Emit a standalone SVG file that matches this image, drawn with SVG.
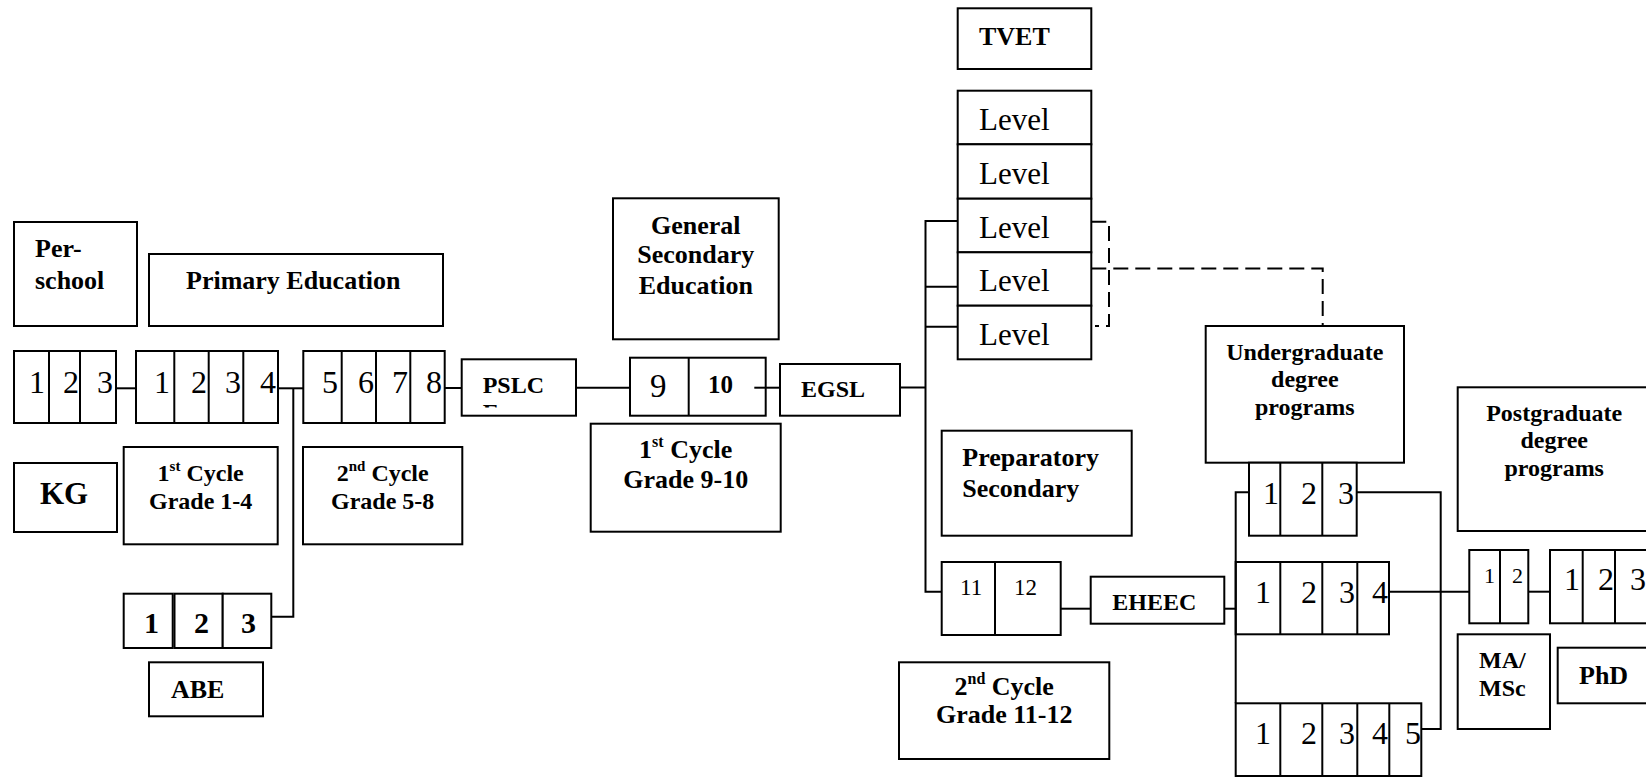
<svg xmlns="http://www.w3.org/2000/svg" width="1646" height="777" viewBox="0 0 1646 777">
  <style>
    .box { fill: #fff; stroke: #000; stroke-width: 2; }
    .div { stroke: #000; stroke-width: 2; }
    .line { fill: none; stroke: #000; stroke-width: 2; }
    .dash { stroke-dasharray: 15 7; }
    .lbl { font-family: "Liberation Serif", "Times New Roman", serif; font-weight: bold; font-size: 26px; fill: #000; }
    .sm { font-size: 24px; }
    .mid { text-anchor: middle; }
    .num { font-family: "Liberation Serif", "Times New Roman", serif; font-size: 32px; fill: #000; }
    .sup { font-size: 15px; }
  </style>
  <defs>
    <clipPath id="pslcClip">
      <rect x="462" y="360" width="113" height="47.5"/>
    </clipPath>
  </defs>
  <rect width="1646" height="777" fill="#fff"/>

  <!-- Pre-school -->
  <g id="preschool">
    <rect class="box" x="14" y="222" width="123" height="104"/>
    <text class="lbl" x="35" y="257">Per-</text>
    <text class="lbl" x="35" y="289">school</text>
  </g>
  <g id="preschool-years">
    <rect class="box" x="14" y="351" width="102" height="72"/>
    <line class="div" x1="49" y1="351" x2="49" y2="423"/>
    <line class="div" x1="80" y1="351" x2="80" y2="423"/>
    <text class="num" x="29" y="393">1</text>
    <text class="num" x="63" y="393">2</text>
    <text class="num" x="97" y="393">3</text>
  </g>
  <g id="kg">
    <rect class="box" x="14" y="463" width="103" height="69"/>
    <text class="lbl" x="40" y="504" style="font-size:31px">KG</text>
  </g>

  <!-- Primary education -->
  <g id="primary">
    <rect class="box" x="149" y="254" width="294" height="72"/>
    <text class="lbl" x="186" y="289">Primary Education</text>
  </g>
  <g id="primary-grades-1-4">
    <rect class="box" x="136" y="351" width="142" height="72"/>
    <line class="div" x1="174.3" y1="351" x2="174.3" y2="423"/>
    <line class="div" x1="208.7" y1="351" x2="208.7" y2="423"/>
    <line class="div" x1="243.3" y1="351" x2="243.3" y2="423"/>
    <text class="num" x="154" y="393">1</text>
    <text class="num" x="191" y="393">2</text>
    <text class="num" x="225" y="393">3</text>
    <text class="num" x="260" y="393">4</text>
  </g>
  <g id="primary-grades-5-8">
    <rect class="box" x="303.3" y="351" width="141.4" height="72"/>
    <line class="div" x1="341.7" y1="351" x2="341.7" y2="423"/>
    <line class="div" x1="376" y1="351" x2="376" y2="423"/>
    <line class="div" x1="410.3" y1="351" x2="410.3" y2="423"/>
    <text class="num" x="322" y="393">5</text>
    <text class="num" x="358" y="393">6</text>
    <text class="num" x="392" y="393">7</text>
    <text class="num" x="426" y="393">8</text>
  </g>
  <g id="cycle-1-4">
    <rect class="box" x="123.7" y="447" width="154" height="97.3"/>
    <text class="lbl sm mid" x="200.7" y="481">1<tspan class="sup" dy="-10">st</tspan><tspan dy="10"> Cycle</tspan></text>
    <text class="lbl sm mid" x="200.7" y="509">Grade 1-4</text>
  </g>
  <g id="cycle-5-8">
    <rect class="box" x="303" y="447" width="159.3" height="97.3"/>
    <text class="lbl sm mid" x="382.7" y="481">2<tspan class="sup" dy="-10">nd</tspan><tspan dy="10"> Cycle</tspan></text>
    <text class="lbl sm mid" x="382.7" y="509">Grade 5-8</text>
  </g>

  <!-- Adult basic education -->
  <g id="abe-years">
    <rect class="box" x="123.7" y="593.7" width="49" height="54.3"/>
    <rect class="box" x="174.5" y="593.7" width="48.2" height="54.3"/>
    <rect class="box" x="222.7" y="593.7" width="48.6" height="54.3"/>
    <text class="num" x="144" y="633" style="font-weight:bold;font-size:30px">1</text>
    <text class="num" x="194" y="633" style="font-weight:bold;font-size:30px">2</text>
    <text class="num" x="241" y="633" style="font-weight:bold;font-size:30px">3</text>
  </g>
  <g id="abe">
    <rect class="box" x="149" y="662.3" width="114" height="54"/>
    <text class="lbl" x="171" y="698">ABE</text>
  </g>

  <!-- Primary school leaving certificate exam (second line cut off by the box) -->
  <g id="pslce">
    <rect class="box" x="461.7" y="359.3" width="114.3" height="56.4"/>
    <text class="lbl sm" x="482.7" y="392.7">PSLC</text>
    <text class="lbl sm" x="482.7" y="420.3" clip-path="url(#pslcClip)">E</text>
  </g>

  <!-- General secondary education -->
  <g id="general-secondary">
    <rect class="box" x="613" y="198.3" width="165.7" height="141"/>
    <text class="lbl mid" x="695.8" y="234">General</text>
    <text class="lbl mid" x="695.8" y="263.3">Secondary</text>
    <text class="lbl mid" x="695.8" y="294.3">Education</text>
  </g>
  <g id="grades-9-10">
    <rect class="box" x="630" y="357.7" width="135.7" height="58"/>
    <line class="div" x1="688.7" y1="357.7" x2="688.7" y2="415.7"/>
    <text class="num" x="650" y="397" style="font-size:33px">9</text>
    <text class="lbl" x="708" y="393.3" style="font-size:25px">10</text>
  </g>
  <g id="cycle-9-10">
    <rect class="box" x="590.7" y="423.7" width="190" height="108"/>
    <text class="lbl mid" x="685.7" y="458.3">1<tspan class="sup" style="font-size:16px" dy="-11">st</tspan><tspan dy="11"> Cycle</tspan></text>
    <text class="lbl mid" x="685.7" y="488.3">Grade 9-10</text>
  </g>
  <g id="egsle">
    <rect class="box" x="780" y="364" width="120" height="51.7"/>
    <text class="lbl sm" x="801" y="396.7">EGSL</text>
  </g>

  <!-- Technical and vocational education and training -->
  <g id="tvet">
    <rect class="box" x="957.7" y="8.3" width="133.6" height="60.7"/>
    <text class="lbl" x="979" y="45">TVET</text>
  </g>
  <g id="tvet-levels">
    <rect class="box" x="957.7" y="90.7" width="133.6" height="53.6"/>
    <rect class="box" x="957.7" y="144.3" width="133.6" height="54.4"/>
    <rect class="box" x="957.7" y="198.7" width="133.6" height="53.6"/>
    <rect class="box" x="957.7" y="252.3" width="133.6" height="53.4"/>
    <rect class="box" x="957.7" y="305.7" width="133.6" height="53.6"/>
    <text class="num" x="979" y="130" style="font-size:31px">Level</text>
    <text class="num" x="979" y="184" style="font-size:31px">Level</text>
    <text class="num" x="979" y="237.7" style="font-size:31px">Level</text>
    <text class="num" x="979" y="291" style="font-size:31px">Level</text>
    <text class="num" x="979" y="345" style="font-size:31px">Level</text>
  </g>

  <!-- Preparatory secondary -->
  <g id="preparatory">
    <rect class="box" x="941.7" y="430.7" width="190" height="105"/>
    <text class="lbl" x="962.3" y="466">Preparatory</text>
    <text class="lbl" x="962.3" y="497.3">Secondary</text>
  </g>
  <g id="grades-11-12">
    <rect class="box" x="941.7" y="562" width="119" height="73"/>
    <line class="div" x1="995" y1="562" x2="995" y2="635"/>
    <text class="num" x="960" y="595" style="font-size:23px">11</text>
    <text class="num" x="1014" y="595" style="font-size:23px">12</text>
  </g>
  <g id="cycle-11-12">
    <rect class="box" x="899" y="662.3" width="210.3" height="96.7"/>
    <text class="lbl mid" x="1004.2" y="695">2<tspan class="sup" style="font-size:16px" dy="-11">nd</tspan><tspan dy="11"> Cycle</tspan></text>
    <text class="lbl mid" x="1004.2" y="723.3">Grade 11-12</text>
  </g>
  <g id="eheece">
    <rect class="box" x="1090.7" y="576.7" width="133.6" height="47"/>
    <text class="lbl sm" x="1112.3" y="610">EHEEC</text>
  </g>

  <!-- Higher education -->
  <g id="undergraduate">
    <rect class="box" x="1205.7" y="326" width="198.3" height="136.7"/>
    <text class="lbl sm mid" x="1304.8" y="360">Undergraduate</text>
    <text class="lbl sm mid" x="1304.8" y="387.3">degree</text>
    <text class="lbl sm mid" x="1304.8" y="415">programs</text>
  </g>
  <g id="ug-3-year">
    <rect class="box" x="1249" y="462.7" width="107.7" height="73"/>
    <line class="div" x1="1280.3" y1="462.7" x2="1280.3" y2="535.7"/>
    <line class="div" x1="1322.3" y1="462.7" x2="1322.3" y2="535.7"/>
    <text class="num" x="1263" y="504">1</text>
    <text class="num" x="1301" y="504">2</text>
    <text class="num" x="1338" y="504">3</text>
  </g>
  <g id="ug-4-year">
    <rect class="box" x="1235.7" y="562" width="153.3" height="72.3"/>
    <line class="div" x1="1280.3" y1="562" x2="1280.3" y2="634.3"/>
    <line class="div" x1="1322.3" y1="562" x2="1322.3" y2="634.3"/>
    <line class="div" x1="1357.3" y1="562" x2="1357.3" y2="634.3"/>
    <text class="num" x="1255" y="603.3">1</text>
    <text class="num" x="1301" y="603.3">2</text>
    <text class="num" x="1339" y="603.3">3</text>
    <text class="num" x="1372" y="603.3">4</text>
  </g>
  <g id="ug-5-year">
    <rect class="box" x="1235.7" y="703.3" width="185.6" height="72.7"/>
    <line class="div" x1="1280.3" y1="703.3" x2="1280.3" y2="776"/>
    <line class="div" x1="1322.3" y1="703.3" x2="1322.3" y2="776"/>
    <line class="div" x1="1357.3" y1="703.3" x2="1357.3" y2="776"/>
    <line class="div" x1="1389.3" y1="703.3" x2="1389.3" y2="776"/>
    <text class="num" x="1255" y="744.3">1</text>
    <text class="num" x="1301" y="744.3">2</text>
    <text class="num" x="1339" y="744.3">3</text>
    <text class="num" x="1372" y="744.3">4</text>
    <text class="num" x="1405" y="744.3">5</text>
  </g>
  <g id="postgraduate">
    <rect class="box" x="1457.7" y="387.3" width="200" height="143.7"/>
    <text class="lbl sm mid" x="1554.2" y="420.7">Postgraduate</text>
    <text class="lbl sm mid" x="1554.2" y="447.7">degree</text>
    <text class="lbl sm mid" x="1554.2" y="476">programs</text>
  </g>
  <g id="masters-years">
    <rect class="box" x="1469.3" y="550" width="59" height="73.3"/>
    <line class="div" x1="1500" y1="550" x2="1500" y2="623.3"/>
    <text class="num" x="1484" y="583.3" style="font-size:22px">1</text>
    <text class="num" x="1512" y="583.3" style="font-size:22px">2</text>
  </g>
  <g id="phd-years">
    <rect class="box" x="1550" y="550" width="110" height="73.3"/>
    <line class="div" x1="1582.7" y1="550" x2="1582.7" y2="623.3"/>
    <line class="div" x1="1615" y1="550" x2="1615" y2="623.3"/>
    <text class="num" x="1564" y="590">1</text>
    <text class="num" x="1598" y="590">2</text>
    <text class="num" x="1630" y="590">3</text>
  </g>
  <g id="masters">
    <rect class="box" x="1457.7" y="634.3" width="92.3" height="94.7"/>
    <text class="lbl sm" x="1479" y="667.7">MA/</text>
    <text class="lbl sm" x="1479" y="695.7">MSc</text>
  </g>
  <g id="phd">
    <rect class="box" x="1557.7" y="647.7" width="100" height="55.6"/>
    <text class="lbl" x="1579" y="684.3">PhD</text>
  </g>

  <!-- Connectors -->
  <g id="connectors">
    <polyline class="line" points="116,388.3 136,388.3"/>
    <polyline class="line" points="278,388.3 303.3,388.3"/>
    <polyline class="line" points="293.3,388.3 293.3,616.7 271.3,616.7"/>
    <polyline class="line" points="444.7,388 461.7,388"/>
    <polyline class="line" points="576,387.7 630,387.7"/>
    <polyline class="line" points="754.3,387.7 780,387.7"/>
    <polyline class="line" points="900,387.5 925.5,387.5"/>
    <polyline class="line" points="957.7,221 925.5,221 925.5,591.7 941.7,591.7"/>
    <polyline class="line" points="925.5,286.7 957.7,286.7"/>
    <polyline class="line" points="925.5,326.7 957.7,326.7"/>
    <polyline class="line" points="1060.7,608.7 1090.7,608.7"/>
    <polyline class="line" points="1224.3,608.7 1235.7,608.7"/>
    <polyline class="line" points="1249,492.3 1235.7,492.3 1235.7,703.3"/>
    <polyline class="line" points="1356.7,492.3 1440.7,492.3 1440.7,729 1421.3,729"/>
    <polyline class="line" points="1389,591.7 1469.3,591.7"/>
    <polyline class="line" points="1528.3,591.7 1550,591.7"/>
    <polyline class="line dash" points="1091.3,221.7 1109,221.7 1109,326 1095,326"/>
    <polyline class="line dash" points="1091.3,268.5 1322.7,268.5 1322.7,326"/>
  </g>
</svg>
